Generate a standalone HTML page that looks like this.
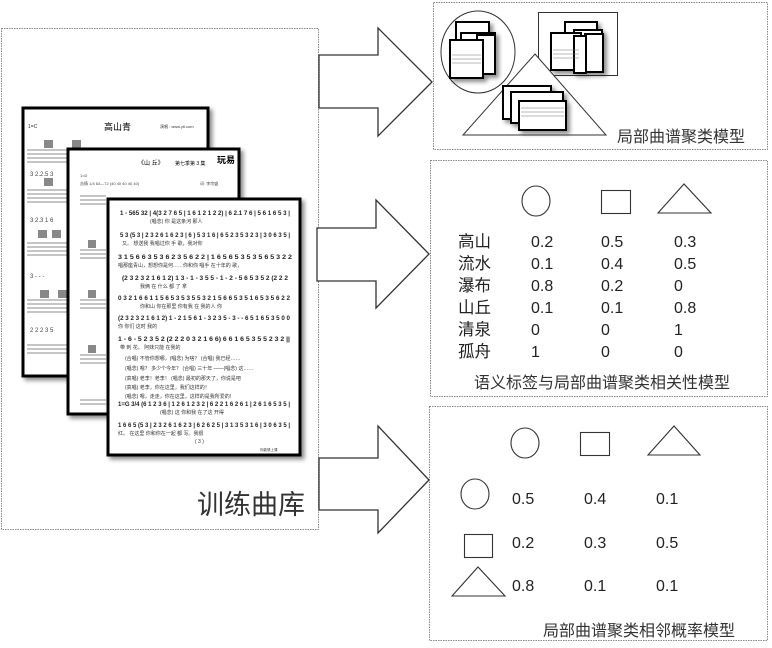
<!DOCTYPE html>
<html><head><meta charset="utf-8"><style>
html,body{margin:0;padding:0;background:#fff;}
svg{display:block;}
text{font-family:"Liberation Sans","Noto Sans CJK SC",sans-serif;}
</style></head><body>
<svg width="772" height="648" viewBox="0 0 772 648" xmlns="http://www.w3.org/2000/svg">
<defs>
<filter id="sh" x="-10%" y="-10%" width="130%" height="130%"><feDropShadow dx="3" dy="3" stdDeviation="2" flood-color="#000" flood-opacity="0.45"/></filter>
</defs>
<g fill="none" stroke="#888" stroke-width="1" stroke-dasharray="1.5,1">
<rect x="1.5" y="28.5" width="317" height="501"/>
<rect x="433.5" y="2.5" width="334" height="147"/>
<rect x="430.5" y="160.5" width="337" height="236"/>
<rect x="429.5" y="406.5" width="338" height="234"/>
</g>
<g fill="#fff" stroke="#333" stroke-width="1.3">
<path d="M319 55 H378 V28 L432 82 L378 136 V108 H319 Z"/>
<path d="M317 228 H376 V200 L429 254 L376 308 V281 H317 Z"/>
<path d="M319 458 H378 V426 L429 480 L378 533 V510 H319 Z"/>
</g>
<g filter="url(#sh)">
<rect x="23" y="108" width="185" height="268" fill="#fff" stroke="#000" stroke-width="3"/>
</g>
<g font-size="7" fill="#333">
<text x="104" y="130" font-size="9" fill="#000">高山青</text>
<text x="28" y="128" font-size="5">1=C</text>
<text x="160" y="128" font-size="4">演唱 : www.ytl.com</text>
</g>
<g fill="#888">
<rect x="44" y="140" width="9" height="8"/><rect x="72" y="140" width="9" height="8"/><rect x="44" y="178" width="9" height="8"/><rect x="38" y="230" width="9" height="8"/><rect x="52" y="230" width="9" height="8"/><rect x="40" y="290" width="9" height="8"/><rect x="58" y="290" width="9" height="8"/>
</g>
<g stroke="#666" stroke-width="0.7">
<path d="M27 150 H70 M27 154 H70 M27 158 H70 M27 162 H70 M27 190 H70 M27 194 H70 M27 198 H70 M27 202 H70 M27 243 H70 M27 247 H70 M27 251 H70 M27 255 H70 M27 300 H70 M27 304 H70 M27 308 H70 M27 312 H70 M27 345 H70 M27 349 H70 M27 353 H70"/>
</g>
<g font-size="6" fill="#444"><text x="30" y="176">3 2.2.5 3</text><text x="30" y="222">3 2.3 1 6</text><text x="30" y="278">3 - - -</text><text x="30" y="332">2 2 2 3 5</text></g>
<g filter="url(#sh)">
<rect x="68" y="149" width="171" height="265" fill="#fff" stroke="#000" stroke-width="3"/>
</g>
<text x="138" y="165" font-size="6" fill="#000">《山 丘》</text>
<text x="175" y="165" font-size="5" fill="#000">第七季第 3 集</text>
<text x="217" y="163" font-size="9" font-weight="bold" fill="#000">玩易</text>
<g font-size="4" fill="#444"><text x="80" y="177">1=D</text><text x="80" y="185">苦情 1/4 63—72 (40 40 40 40 40)</text><text x="200" y="185">词: 李宗盛</text></g>
<g fill="#888"><rect x="88" y="240" width="8" height="8"/><rect x="88" y="290" width="8" height="8"/><rect x="88" y="345" width="8" height="8"/></g>
<g stroke="#666" stroke-width="0.7"><path d="M80 196 H106 M80 200 H106 M80 204 H106 M80 250 H106 M80 254 H106 M80 258 H106 M80 300 H106 M80 304 H106 M80 308 H106 M80 355 H106 M80 359 H106 M80 363 H106 M80 400 H106 M80 404 H106"/></g>
<g filter="url(#sh)">
<rect x="108" y="199" width="192" height="256" fill="#fff" stroke="#000" stroke-width="3"/>
</g>
<g font-size="6.5" fill="#222" font-weight="bold">
<text x="120" y="215" textLength="170" lengthAdjust="spacingAndGlyphs">1 - 565 32 | 4(3 2 7 6 5 | 1 6 1 2 1 2 2) | 6 2.1 7 6 | 5 6 1 6 5 3 |</text>
<text x="120" y="237" textLength="170" lengthAdjust="spacingAndGlyphs">5 3 (5 3 | 2 3 2 6 1 6 2 3 | 6 ) 5 3 1 6 | 6 5 2 3 5 3 2 3 | 3 0 6 3 5 |</text>
<text x="118" y="259" textLength="174" lengthAdjust="spacingAndGlyphs">3 1 5 6 6 3 5 3 6 2 3 5 6 2 2 | 1 6 5 6 5 3 5 3 5 6 5 3 2 2</text>
<text x="122" y="280" textLength="166" lengthAdjust="spacingAndGlyphs">(2 3 2 3 2 1 6 1 2) 1 3 - 1 - 3 5 5 - 1 - 2 - 5 6 5 3 5 2 (2 2 2</text>
<text x="118" y="300" textLength="172" lengthAdjust="spacingAndGlyphs">0 3 2 1 6 6 1 1 5 6 5 3 5 3 5 5 3 2 1 5 6 6 5 3 5 1 6 5 3 5 6 2 2</text>
<text x="118" y="320" textLength="172" lengthAdjust="spacingAndGlyphs">(2 3 2 3 2 1 6 1 2) 1 - 2 1 5 6 1 - 3 2 3 5 - 3 - - 6 5 1 6 5 3 5 0 0</text>
<text x="118" y="341" textLength="172" lengthAdjust="spacingAndGlyphs">1 - 6 - 5 2 3 5 2 (2 2 2 0 3 2 1 6 6) 6 6 1 6 5 3 5 5 2 3 2 ||</text>
<text x="118" y="406" textLength="172" lengthAdjust="spacingAndGlyphs">1=G 3/4 (6 1 2 3 6 | 1 2 6 1 2 3 2 | 6 2 2 1 6 2 6 1 | 2 6 1 6 5 3 5 |</text>
<text x="118" y="427" textLength="172" lengthAdjust="spacingAndGlyphs">1 6 6 5 (5 3 | 2 3 2 6 1 6 2 3 | 6 2 6 2 5 | 3 1 3 5 3 1 6 | 3 0 6 3 5 |</text>
</g>
<g font-size="5" fill="#333">
<text x="150" y="223">(唱念) 你 是这条河 那人</text>
<text x="122" y="245">又。 想送我 我唱过你 手 歌，我对你</text>
<text x="118" y="267">唱那座青山，想想你是何……你和你 唱手 在十年的 歌，</text>
<text x="140" y="288">我俩 在 什么 都 了 拿</text>
<text x="140" y="308">你和山 你在那里 你有我 在 我的人 你</text>
<text x="118" y="328">你 你们 这时 我的</text>
<text x="120" y="349">带 刺 花。 阿妹只能 在我的</text>
<text x="125" y="360">(合唱) 不管你想哪，(唱念) 为啥？ (合唱) 我已经……</text>
<text x="125" y="370">(唱念) 嗯？ 多少个今年？ (合唱) 三十年 ——(唱念) 这……</text>
<text x="125" y="380">(高唱) 老李！老李！ (唱念) 最初的那天了，你说是吧</text>
<text x="125" y="389">(高唱) 老李，你在这里，我们这样的！</text>
<text x="125" y="398">(唱念) 嗯，走走，你在这里，这样的是我所爱的!</text>
<text x="160" y="414">(唱念) 这 你和我 在了这 开得</text>
<text x="118" y="435">红。  在这里 你和你在一起 都 写。我很</text>
<text x="195" y="443">( 3 )</text>
<text x="260" y="451" font-size="3.5">你能够上课</text>
</g>
<text x="197" y="514" font-size="27" fill="#333">训练曲库</text>

<ellipse cx="478" cy="52" rx="37" ry="41" fill="#fff" stroke="#333" stroke-width="1"/>
<rect x="538.5" y="12.5" width="79" height="63" fill="#fff" stroke="#333" stroke-width="1"/>
<g filter="url(#sh)" fill="#fff" stroke="#000" stroke-width="2">
<rect x="456" y="22" width="33" height="50"/><rect x="461" y="33" width="34" height="40"/><rect x="477" y="35" width="18" height="39"/>
<rect x="450" y="40" width="33" height="38"/>
<rect x="565" y="22" width="32" height="44"/><rect x="574" y="30" width="28" height="42"/><rect x="585" y="34" width="18" height="38"/>
<rect x="551" y="33" width="30" height="37"/><rect x="574" y="36" width="12" height="37"/>
</g>
<path d="M535 54 L606 135 H463 Z" fill="#fff" stroke="#333" stroke-width="1"/>
<g filter="url(#sh)" fill="#fff" stroke="#000" stroke-width="2">
<rect x="503" y="86" width="48" height="33"/><rect x="511" y="92" width="52" height="31"/><rect x="519" y="101" width="47" height="29"/>
</g>
<g stroke="#777" stroke-width="0.6"><path d="M452 55 H481 M452 59 H481 M452 63 H481 M553 50 H579 M553 54 H579 M553 58 H579 M521 108 H564 M521 112 H564 M521 116 H564"/></g>
<text x="617" y="142" font-size="16" fill="#333">局部曲谱聚类模型</text>

<g fill="none" stroke="#333" stroke-width="1.1">
<ellipse cx="536" cy="201" rx="14" ry="15"/>
<rect x="601.5" y="190.5" width="29" height="23"/>
<path d="M658 213 L684 184 L711 213 Z"/>
</g>
<g font-size="16.5" fill="#222">
<text x="458" y="247">高山</text><text x="458" y="269">流水</text><text x="458" y="291">瀑布</text><text x="458" y="313">山丘</text><text x="458" y="335">清泉</text><text x="458" y="357">孤舟</text>
</g>
<g font-size="16" fill="#222">
<text x="531" y="247">0.2</text><text x="601" y="247">0.5</text><text x="674" y="247">0.3</text>
<text x="531" y="269">0.1</text><text x="601" y="269">0.4</text><text x="674" y="269">0.5</text>
<text x="531" y="291">0.8</text><text x="601" y="291">0.2</text><text x="674" y="291">0</text>
<text x="531" y="313">0.1</text><text x="601" y="313">0.1</text><text x="674" y="313">0.8</text>
<text x="531" y="335">0</text><text x="601" y="335">0</text><text x="674" y="335">1</text>
<text x="531" y="357">1</text><text x="601" y="357">0</text><text x="674" y="357">0</text>
</g>
<text x="474" y="388" font-size="16" fill="#333">语义标签与局部曲谱聚类相关性模型</text>

<g fill="none" stroke="#333" stroke-width="1.1">
<ellipse cx="525" cy="443" rx="14" ry="15"/>
<rect x="580.5" y="432.5" width="29" height="23"/>
<path d="M648 455 L674 426 L700 455 Z"/>
<ellipse cx="475" cy="494" rx="14" ry="15"/>
<rect x="464.5" y="534.5" width="28" height="23"/>
<path d="M452 596 L478 567 L505 596 Z"/>
</g>
<g font-size="16" fill="#222">
<text x="512" y="504">0.5</text><text x="584" y="504">0.4</text><text x="656" y="504">0.1</text>
<text x="512" y="548">0.2</text><text x="584" y="548">0.3</text><text x="656" y="548">0.5</text>
<text x="512" y="591">0.8</text><text x="584" y="591">0.1</text><text x="656" y="591">0.1</text>
</g>
<text x="543" y="636" font-size="16" fill="#333">局部曲谱聚类相邻概率模型</text>
</svg>
</body></html>
